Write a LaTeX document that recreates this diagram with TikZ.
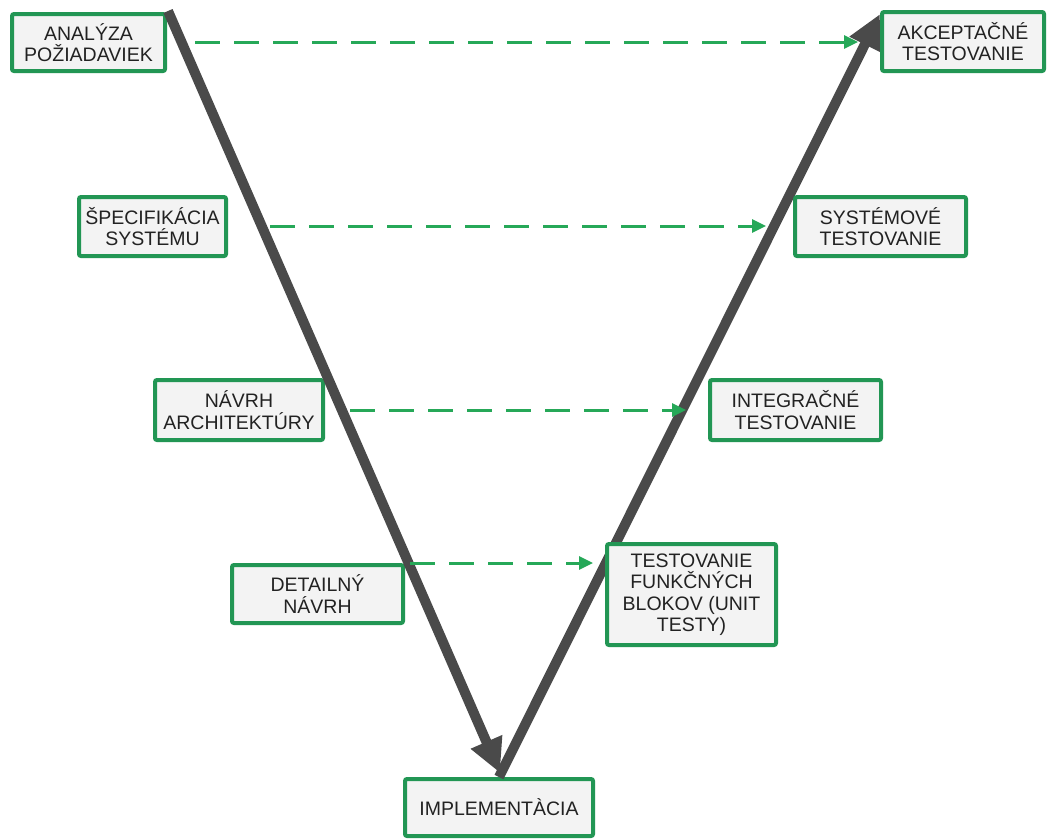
\documentclass[tikz,border=0pt]{standalone}
\usepackage{fontspec}
\setmainfont{Liberation Sans}
\usetikzlibrary{arrows.meta}
\definecolor{boxgreen}{RGB}{34,150,84}
\definecolor{dashgreen}{RGB}{38,168,88}
\definecolor{flowgray}{RGB}{74,74,74}
\definecolor{boxfill}{RGB}{243,243,243}
\definecolor{labeltext}{RGB}{34,34,34}
\begin{document}
\begin{tikzpicture}[x=1pt,y=-1pt,
  phase/.style={draw=boxgreen, line width=4pt, rounded corners=2pt, fill=boxfill,
    text=labeltext, align=center, inner sep=0pt,
    font=\fontsize{19.5}{21.5}\selectfont},
  flow/.style={draw=flowgray, line width=10pt,
    -{Triangle[length=34pt,width=32pt]}},
  verify/.style={draw=dashgreen, line width=3pt, dash pattern=on 25pt off 14pt,
    -{Triangle[length=14pt,width=13pt]}}]
\useasboundingbox (0,0) rectangle (1047,839);
\fill[white] (0,0) rectangle (1047,839);

% left branch: specification and design
\node[phase, minimum width=153pt, minimum height=57pt] (req) at (88.5,42.5) {ANALÝZA\\POŽIADAVIEK};
\node[phase, minimum width=147pt, minimum height=59pt] (spec) at (152.5,226.5) {ŠPECIFIKÁCIA\\SYSTÉMU};
\node[phase, minimum width=168pt, minimum height=60pt] (arch) at (239,410) {NÁVRH\\ARCHITEKTÚRY};
\node[phase, minimum width=171pt, minimum height=58pt] (det) at (317.5,594) {DETAILNÝ\\NÁVRH};

% bottom
\node[phase, minimum width=188pt, minimum height=57pt] (impl) at (499,807.5) {IMPLEMENTÀCIA};

% right branch: testing (ascending flow lies behind the boxes)
\coordinate (accTip) at (880,14);
\draw[flow] (impl.north) -- (accTip);

\node[phase, minimum width=162pt, minimum height=59pt] (acc) at (963,41.5) {AKCEPTAČNÉ\\TESTOVANIE};
\node[phase, minimum width=171pt, minimum height=59pt] (sys) at (880.5,226.5) {SYSTÉMOVÉ\\TESTOVANIE};
\node[phase, minimum width=171pt, minimum height=60pt] (integ) at (795.5,410) {INTEGRAČNÉ\\TESTOVANIE};
\node[phase, minimum width=169pt, minimum height=101pt] (unit) at (691.5,594.5) {TESTOVANIE\\FUNKČNÝCH\\BLOKOV (UNIT\\TESTY)};

% descending flow
\coordinate (reqStart) at (168,11);
\coordinate (implTop) at (500,773);
\draw[flow] (reqStart) -- (implTop);

% verification links
\coordinate (v1a) at (195,42);  \coordinate (v1b) at (858,42);
\coordinate (v2a) at (270,226); \coordinate (v2b) at (766,226);
\coordinate (v3a) at (350,410); \coordinate (v3b) at (686,410);
\coordinate (v4a) at (410,563); \coordinate (v4b) at (593,563);
\draw[verify] (v1a) -- (v1b);
\draw[verify] (v2a) -- (v2b);
\draw[verify] (v3a) -- (v3b);
\draw[verify] (v4a) -- (v4b);
\end{tikzpicture}
\end{document}
